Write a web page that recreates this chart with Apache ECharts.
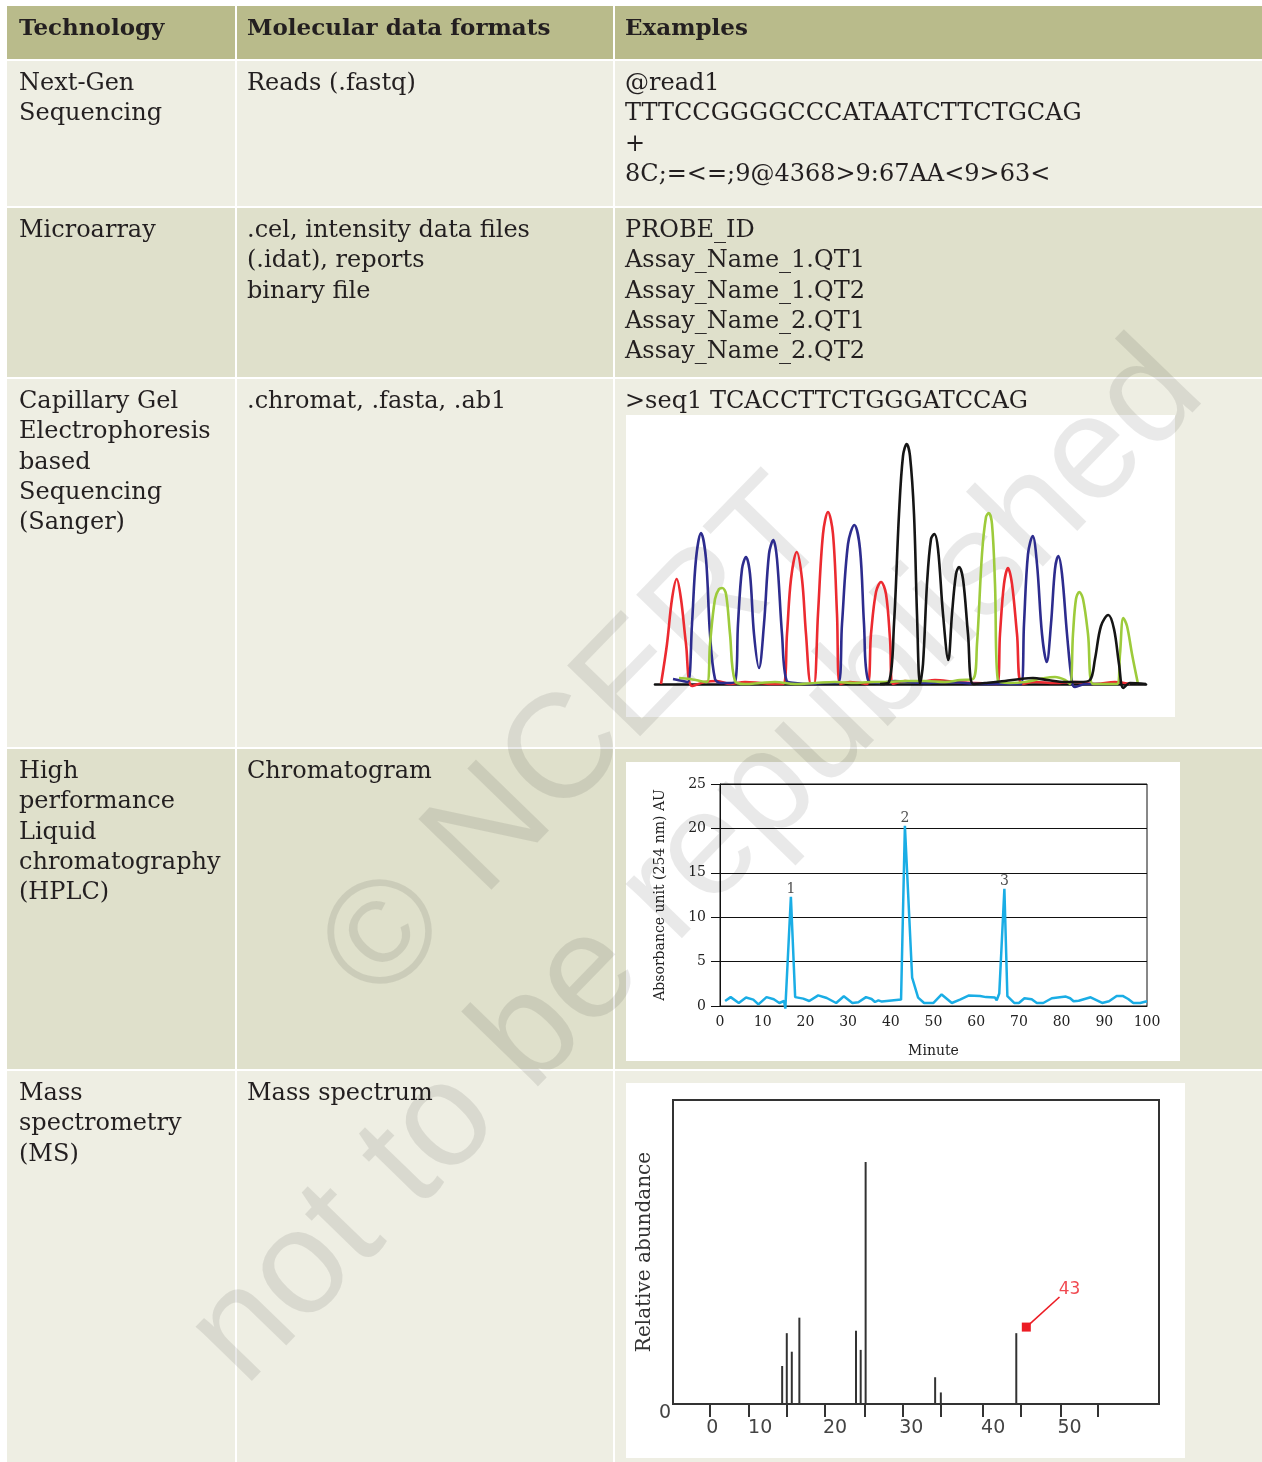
<!DOCTYPE html>
<html><head><meta charset="utf-8">
<script src="https://cdn.jsdelivr.net/npm/echarts@6/dist/echarts.min.js"></script>
<style>html,body{margin:0;padding:0;background:#fff}#c{width:1262px;height:1462px}</style>
</head><body><div id="c"></div>
<script>
// ---------------- table content ----------------
const headers = ['Technology', 'Molecular data formats', 'Examples'];
const technologies = [
  ['Next-Gen', 'Sequencing'],
  ['Microarray'],
  ['Capillary Gel', 'Electrophoresis', 'based', 'Sequencing', '(Sanger)'],
  ['High', 'performance', 'Liquid', 'chromatography', '(HPLC)'],
  ['Mass', 'spectrometry', '(MS)']
];
const formats = [
  ['Reads (.fastq)'],
  ['.cel, intensity data files', '(.idat), reports', 'binary file'],
  ['.chromat, .fasta, .ab1'],
  ['Chromatogram'],
  ['Mass spectrum']
];
const examples = [
  ['@read1', 'TTTCCGGGGCCCATAATCTTCTGCAG', '+', '8C;=<=;9@4368>9:67AA<9>63<'],
  ['PROBE_ID', 'Assay_Name_1.QT1', 'Assay_Name_1.QT2', 'Assay_Name_2.QT1', 'Assay_Name_2.QT2'],
  ['>seq1 TCACCTTCTGGGATCCAG'],
  [],
  []
];
const watermarkLines = ['© NCERT', 'not to be republished'];

// ---------------- Sanger chromatogram traces [position, signal] ----------------
const sangerRed = [[6,0],[12,40],[17,85],[21.7,105],[26,85],[31,40],[37,-2],[50,2],[62,3],[75,0],[90,2],[105,1],[118,0],[128,0],[132,50],[136,105],[141.7,132],[147,105],[151,50],[156,0],[159,0],[163,70],[168,150],[173,172],[178,150],[182,70],[185,0],[195,2],[212,0],[216,50],[221,92],[226,102],[231,90],[235,45],[238,0],[250,3],[265,2],[280,4],[300,2],[320,1],[342,0],[345,50],[349,100],[353,116],[357,100],[362,50],[367,0],[380,2],[400,1],[420,2],[440,0],[460,2],[475,0]];
const sangerBlue = [[18,5],[28,3],[33,2],[37,60],[41,125],[46,151],[51,125],[55,50],[60,5],[66,1],[72,1],[80,2],[83,60],[87,115],[91,127],[95,110],[99,50],[104,16],[109,60],[114,130],[118.3,144],[122,125],[127,50],[131.7,3],[140,1],[155,0],[170,1],[183,1],[187,60],[193,140],[199.3,159],[205,135],[209,60],[213,4],[225,1],[240,3],[255,2],[270,1],[290,2],[310,1],[330,0],[350,0],[366,0],[369,60],[373,130],[377.7,148],[382,120],[387,50],[391.7,22],[396,60],[400,115],[403.3,128],[407,110],[412,50],[417,2],[420,-3],[430,0],[445,0]];
const sangerGreen = [[24,6],[35,5],[45,3],[52,2],[55,40],[60,85],[64,95],[67.3,96],[71,90],[75,50],[80,3],[90,0],[105,1],[120,2],[140,0],[160,1],[180,2],[200,1],[215,2],[230,2],[250,3],[270,3],[290,2],[305,4],[318,5],[322,40],[327,130],[331,167],[333.7,171],[337,160],[340,100],[343,3],[355,1],[370,2],[385,5],[400,7],[410,4],[415,0],[418,50],[421,85],[424.3,92],[428,85],[433,50],[438,0],[450,0],[462,0],[465,30],[468.3,66],[472,58],[477,30],[483,0]];
const sangerBlack = [[225,0],[234,2],[239,60],[244,170],[248,228],[251.7,240],[255,228],[259,170],[262,70],[265,0],[268,20],[272,100],[276,145],[279.3,150],[283,135],[288,70],[293.3,24],[297,70],[301,110],[304,117],[308,105],[313,50],[318.3,0],[330,1],[350,3],[365,5],[378,6],[392,4],[410,2],[425,2],[435,4],[440,25],[446,58],[453.3,69],[459,55],[464,20],[468.3,-4],[475,1],[491,0]];

// ---------------- HPLC chromatogram [minute, AU] ----------------
const hplcTrace = [[1.2,0.56],[2.5,1.0],[4.4,0.34],[6.1,0.95],[7.8,0.72],[9.0,0.19],[10.9,1.0],[12.6,0.76],[13.9,0.34],[15.0,0.56],[15.3,-0.3],[16.6,12.3],[17.6,1.0],[19.5,0.83],[20.9,0.56],[23.0,1.2],[25.0,0.9],[27.2,0.34],[29.0,1.1],[31.0,0.34],[32.4,0.42],[34.2,1.0],[35.5,0.79],[36.3,0.45],[37.1,0.64],[37.9,0.5],[42.4,0.72],[43.3,20.3],[45.0,3.2],[46.4,0.95],[47.8,0.34],[50.0,0.34],[51.9,1.3],[54.3,0.34],[56.2,0.72],[58.2,1.17],[60.9,1.13],[62.3,1.0],[64.4,0.95],[64.8,0.64],[65.4,1.4],[66.6,13.2],[67.3,1.1],[68.9,0.34],[70.0,0.34],[71.3,0.87],[73.0,0.76],[74.2,0.34],[75.7,0.34],[77.7,0.87],[81.0,1.06],[82.0,0.87],[82.8,0.53],[84.0,0.6],[84.4,0.42],[86.8,0.98],[89.5,0.34],[91.1,0.53],[92.9,1.13],[94.3,1.13],[95.6,0.79],[96.8,0.34],[98.4,0.34],[100,0.53]];
const hplcPeakMinutes = [16.6, 43.3, 66.6];
const hplcPeakNames = ['1', '2', '3'];
const hplcYName = 'Absorbance unit (254 nm) AU';
const hplcXName = 'Minute';

// ---------------- Mass spectrum [m/z, relative abundance] ----------------
const msPeaks = [[12.85,12.5],[13.45,23.3],[14.1,17.2],[15.08,28.4],[22.42,24.1],[23.03,17.8],[23.67,79.6],[32.68,8.8],[33.42,3.8],[43.2,23.3]];
const msTickValues = [3.5, 8.56, 13.5, 18.4, 23.6, 28.5, 33.4, 38.9, 43.8, 48.9, 53.8];
const msLabelPos = [3.8, 10, 19.7, 29.6, 40.2, 50.1];
const msLabelText = ['0', '10', '20', '30', '40', '50'];
const msYName = 'Relative abundance';
const msAnnotation = { text: '43', marker: [44.5, 25.3], lineEnd: [48.8, 35.2], textAt: [50.1, 37.8] };

// ---------------- layout ----------------
const SERIF = '"DejaVu Serif", serif';
const SANS = '"DejaVu Sans", sans-serif';
const colX = [7, 236, 614, 1262];
const rowY = [6, 60, 207, 378, 748, 1070, 1462];
const rowFill = ['#b9bb8b', '#eeeee3', '#dfe0cb', '#eeeee3', '#dfe0cb', '#eeeee3'];
const textX = [19, 247, 625];
const lineStep = 30.4;
const INK = '#231f20';

const elements = [];
for (let r = 0; r < rowFill.length; r++) {
  for (let c = 0; c < 3; c++) {
    elements.push({
      type: 'rect', z: -20, silent: true,
      shape: { x: colX[c] + (c ? 1 : 0), y: rowY[r] + (r ? 1 : 0),
               width: colX[c + 1] - colX[c] - (c ? 1 : 0) - (c < 2 ? 1 : 0),
               height: rowY[r + 1] - rowY[r] - (r ? 1 : 0) - (r < rowFill.length - 1 ? 1 : 0) },
      style: { fill: rowFill[r] }
    });
  }
}
// white panels behind the example figures
[[626, 415, 549, 302], [626, 762, 554, 299], [626, 1083, 559, 375]].forEach(b => {
  elements.push({ type: 'rect', z: -19, silent: true,
    shape: { x: b[0], y: b[1], width: b[2], height: b[3] }, style: { fill: '#ffffff' } });
});
function addText(x, y, s, font) {
  elements.push({ type: 'text', z: 0, silent: true, x: x, y: y,
    style: { text: s, font: font, fill: INK, align: 'left', verticalAlign: 'middle',
             textAlign: 'left', textVerticalAlign: 'middle' } });
}
headers.forEach((h, i) => addText(textX[i], 29, h, 'bold 23px ' + SERIF));
const cols = [technologies, formats, examples];
for (let r = 0; r < 5; r++) {
  cols.forEach((col, c) => {
    col[r].forEach((s, k) => addText(textX[c], rowY[r + 1] + 23.5 + k * lineStep, s, '24px ' + SERIF));
  });
}
// watermark
[[578, 742], [697, 864]].forEach((p, i) => {
  elements.push({ type: 'text', z: 1, silent: true, x: p[0], y: p[1], rotation: 0.80,
    style: { text: watermarkLines[i], font: '148px "Liberation Sans", sans-serif',
             fill: 'rgba(0,0,0,0.085)', align: 'center', verticalAlign: 'middle',
             textAlign: 'center', textVerticalAlign: 'middle' } });
});

const hplcLabelPoints = hplcPeakMinutes.map((m, i) => {
  const pt = hplcTrace.find(p => p[0] === m);
  return { value: pt, label: { formatter: hplcPeakNames[i] } };
});

const sangerLine = (data, color) => ({
  type: 'line', xAxisIndex: 0, yAxisIndex: 0, data: data, smooth: 0.35,
  showSymbol: false, symbol: 'none', clip: false, silent: true,
  lineStyle: { color: color, width: 2.6 }, z: 3
});

const option = {
  animation: false,
  backgroundColor: '#ffffff',
  graphic: { elements: elements },
  grid: [
    { left: 655, top: 424, width: 491, height: 260 },
    { left: 720, top: 784, width: 427, height: 222, show: true, borderColor: '#111', borderWidth: 1 },
    { left: 673, top: 1100, width: 486, height: 304, show: true, borderColor: '#333', borderWidth: 2 }
  ],
  xAxis: [
    { gridIndex: 0, type: 'value', min: 0, max: 491,
      axisLine: { show: true, onZero: false, lineStyle: { color: '#111', width: 2.6 } },
      axisTick: { show: false }, axisLabel: { show: false }, splitLine: { show: false } },
    { gridIndex: 1, type: 'value', min: 0, max: 100, interval: 10,
      axisLine: { show: true, onZero: false, lineStyle: { color: '#111', width: 1 } },
      axisTick: { show: false }, splitLine: { show: false },
      axisLabel: { margin: 9, fontFamily: SERIF, fontSize: 14, color: '#222' },
      name: hplcXName, nameLocation: 'middle', nameGap: 38,
      nameTextStyle: { fontFamily: SERIF, fontSize: 14, color: '#222' } },
    { gridIndex: 2, type: 'value', min: -1.3, max: 61.7,
      axisLine: { show: true, onZero: false, lineStyle: { color: '#333', width: 2 } },
      axisTick: { show: true, customValues: msTickValues, length: 13, inside: false,
                  lineStyle: { color: '#333', width: 2 } },
      splitLine: { show: false },
      axisLabel: { customValues: msLabelPos, margin: 15, fontFamily: SANS, fontSize: 19, color: '#444',
                   formatter: v => { const i = msLabelPos.findIndex(p => Math.abs(p - v) < 1e-6); return i >= 0 ? msLabelText[i] : ''; } } }
  ],
  yAxis: [
    { gridIndex: 0, type: 'value', min: 0, max: 260, show: false, splitLine: { show: false } },
    { gridIndex: 1, type: 'value', min: 0, max: 25, interval: 5,
      axisLine: { show: true, onZero: false, lineStyle: { color: '#111', width: 1 } },
      axisTick: { show: true, length: 9, lineStyle: { color: '#111', width: 1 } },
      splitLine: { show: true, lineStyle: { color: '#111', width: 1 } },
      axisLabel: { margin: 14, fontFamily: SERIF, fontSize: 14, color: '#222' },
      name: hplcYName, nameLocation: 'middle', nameGap: 53, nameRotate: 90,
      nameTextStyle: { fontFamily: SERIF, fontSize: 14, color: '#222' } },
    { gridIndex: 2, type: 'value', min: 0, max: 100,
      axisLine: { show: true, onZero: false, lineStyle: { color: '#333', width: 2 } },
      axisTick: { show: false }, splitLine: { show: false },
      axisLabel: { customValues: [0], formatter: () => '0', margin: 2, verticalAlign: 'top',
                   fontFamily: SANS, fontSize: 19, color: '#444' },
      name: msYName, nameLocation: 'middle', nameGap: 8, nameRotate: 90,
      nameTextStyle: { fontFamily: SERIF, fontSize: 20, color: '#333' } }
  ],
  series: [
    sangerLine(sangerRed, '#ec2a30'),
    sangerLine(sangerBlue, '#2d2c8e'),
    sangerLine(sangerGreen, '#9dcb3b'),
    sangerLine(sangerBlack, '#151515'),
    { type: 'line', xAxisIndex: 1, yAxisIndex: 1, data: hplcTrace, showSymbol: false, symbol: 'none',
      clip: false, silent: true, lineStyle: { color: '#1aade5', width: 2.5 }, z: 3 },
    { type: 'scatter', xAxisIndex: 1, yAxisIndex: 1, data: hplcLabelPoints, symbolSize: 1, silent: true,
      itemStyle: { color: 'rgba(0,0,0,0)' },
      label: { show: true, position: 'top', distance: 0, fontFamily: SERIF, fontSize: 14, color: '#222' } },
    { type: 'bar', xAxisIndex: 2, yAxisIndex: 2, data: msPeaks, barWidth: 2, silent: true,
      itemStyle: { color: '#333' } },
    { type: 'line', xAxisIndex: 2, yAxisIndex: 2, data: [msAnnotation.marker, msAnnotation.lineEnd],
      symbol: 'none', silent: true, lineStyle: { color: '#ec1c24', width: 1.6 } },
    { type: 'scatter', xAxisIndex: 2, yAxisIndex: 2, data: [msAnnotation.marker], symbol: 'rect',
      symbolSize: 9, silent: true, itemStyle: { color: '#ec1c24', opacity: 1 } },
    { type: 'scatter', xAxisIndex: 2, yAxisIndex: 2, data: [msAnnotation.textAt], symbolSize: 1, silent: true,
      itemStyle: { color: 'rgba(0,0,0,0)' },
      label: { show: true, position: 'inside', formatter: msAnnotation.text, fontFamily: SANS,
               fontSize: 17, color: '#ec1c24' } }
  ]
};
const chart = echarts.init(document.getElementById('c'), null, { renderer: 'canvas' });
chart.setOption(option);
</script></body></html>
